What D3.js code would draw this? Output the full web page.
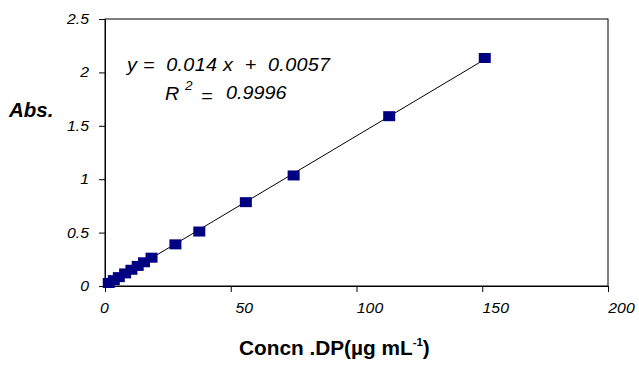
<!DOCTYPE html>
<html>
<head>
<meta charset="utf-8">
<script src="https://cdn.jsdelivr.net/npm/d3@7"></script>
<style>
  body { margin: 0; background: #fff; }
  svg { display: block; }
  text { font-family: Arial, "Liberation Sans", sans-serif; fill: #000; }
</style>
</head>
<body>
<div id="chart"></div>
<script>
// calibration data: concentration (µg/mL) vs absorbance
var concn = [1.5, 3.5, 5.5, 8, 10.5, 13, 15.5, 18.5, 28, 37.5, 56, 75, 113, 151];
var absorb = [0.028, 0.055, 0.083, 0.118, 0.152, 0.188, 0.222, 0.265, 0.39, 0.51, 0.785, 1.035, 1.59, 2.135];
var xTicks = [0, 50, 100, 150, 200];
var yTicks = [0, 0.5, 1, 1.5, 2, 2.5];
var yTickLabels = ["0", "0.5", "1", "1.5", "2", "2.5"];

(function () {
  var width = 639, height = 372;
  var plotLeft = 105, plotRight = 608, plotTop = 19, plotBottom = 286;
  var stretch = 1.13; // the original text is a bit wider than Arial

  var svg = d3.select("#chart").append("svg")
    .attr("width", width)
    .attr("height", height);

  var x = d3.scaleLinear().domain([0, 200]).range([plotLeft, plotRight]);
  var y = d3.scaleLinear().domain([0, 2.5]).range([plotBottom, plotTop]);

  // plot frame
  svg.append("rect")
    .attr("x", plotLeft).attr("y", plotTop)
    .attr("width", plotRight - plotLeft).attr("height", plotBottom - plotTop)
    .attr("fill", "none").attr("stroke", "#000").attr("stroke-width", 1);

  // y axis
  var yAxis = svg.append("g")
    .attr("transform", "translate(" + plotLeft + ",0)")
    .call(d3.axisLeft(y).tickValues(yTicks).tickSize(6).tickPadding(9)
      .tickFormat(function(d, i) { return yTickLabels[i]; }));
  yAxis.select(".domain").attr("stroke", "#000");
  yAxis.selectAll("line").attr("stroke", "#000");
  yAxis.selectAll("text")
    .style("font-size", "14px").style("font-style", "italic")
    .attr("font-family", null)
    .attr("x", -16 / stretch)
    .attr("transform", "scale(" + stretch + ",1)");

  // x axis
  var xAxis = svg.append("g")
    .attr("transform", "translate(0," + plotBottom + ")")
    .call(d3.axisBottom(x).tickValues(xTicks).tickSize(6).tickPadding(11).tickFormat(d3.format("d")));
  xAxis.select(".domain").attr("stroke", "#000");
  xAxis.selectAll("line").attr("stroke", "#000");
  xAxis.selectAll("text")
    .style("font-size", "14px").style("font-style", "italic")
    .attr("font-family", null)
    .attr("x", function(d) { return (d === 0 ? -1 : 13) / stretch; })
    .attr("transform", "scale(" + stretch + ",1)");

  // least squares trendline over the data range
  var n = concn.length;
  var mx = d3.mean(concn), my = d3.mean(absorb);
  var sxy = 0, sxx = 0;
  for (var i = 0; i < n; i++) {
    sxy += (concn[i] - mx) * (absorb[i] - my);
    sxx += (concn[i] - mx) * (concn[i] - mx);
  }
  var slope = sxy / sxx, intercept = my - slope * mx;
  var x0 = d3.min(concn), x1 = d3.max(concn);

  svg.append("line")
    .attr("x1", x(x0)).attr("y1", y(intercept + slope * x0))
    .attr("x2", x(x1)).attr("y2", y(intercept + slope * x1))
    .attr("stroke", "#000").attr("stroke-width", 1);

  // markers
  svg.selectAll("rect.pt")
    .data(concn)
    .enter().append("rect")
    .attr("class", "pt")
    .attr("x", function(d) { return x(d) - 6; })
    .attr("y", function(d, i) { return y(absorb[i]) - 5; })
    .attr("width", 12).attr("height", 10)
    .attr("fill", "#000080");

  // equation
  svg.append("text")
    .attr("transform", "translate(127,71) scale(" + stretch + ",1)")
    .attr("textLength", 203 / stretch).attr("lengthAdjust", "spacing")
    .style("font-size", "17.5px").style("font-style", "italic")
    .style("white-space", "pre")
    .text("y =  0.014 x  +  0.0057");

  var r2 = svg.append("text")
    .attr("transform", "translate(165,100) scale(" + stretch + ",1)")
    .style("font-size", "17.5px").style("font-style", "italic");
  r2.append("tspan").text("R");
  r2.append("tspan").attr("x", 20 / stretch).attr("dy", -10).style("font-size", "12px").text("2");
  r2.append("tspan").attr("x", 36 / stretch).attr("dy", 12).text("=");
  r2.append("tspan").attr("x", 61 / stretch).attr("dy", -3).text("0.9996");

  // axis titles
  svg.append("text")
    .attr("x", 9).attr("y", 117)
    .style("font-size", "20.5px").style("font-weight", "bold").style("font-style", "italic")
    .text("Abs.");

  var xt = svg.append("text")
    .attr("transform", "translate(239,355) scale(1.04,1)")
    .style("font-size", "20px").style("font-weight", "bold");
  xt.append("tspan").text("Concn .DP(µg mL");
  xt.append("tspan").attr("dy", -9).style("font-size", "11px").text("-1");
  xt.append("tspan").attr("dy", 9).text(")");
})();
</script>
</body>
</html>
